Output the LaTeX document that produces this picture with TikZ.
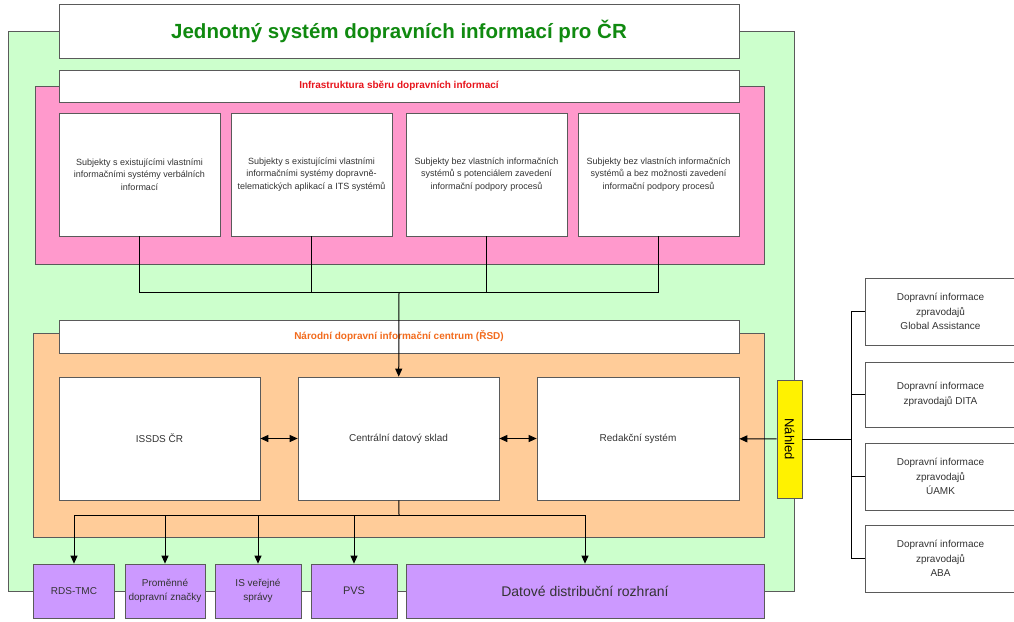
\documentclass[tikz,border=0pt]{standalone}
\usepackage{fontspec}
\setmainfont{Liberation Sans}
\usetikzlibrary{arrows.meta}

\definecolor{linegray}{HTML}{5A5A5A}
\definecolor{textgray}{HTML}{333333}
\definecolor{jsdigreen}{HTML}{CCFFCC}
\definecolor{infrapink}{HTML}{FF99CC}
\definecolor{ndicorange}{HTML}{FFCC99}
\definecolor{outviolet}{HTML}{CC99FF}
\definecolor{titlegreen}{HTML}{108A10}
\definecolor{labelred}{HTML}{E8141C}
\definecolor{labelorange}{HTML}{F26B1D}

\begin{document}
\begin{tikzpicture}[x=1pt, y=-1pt, >={Triangle[length=8pt,width=7pt]},
    every node/.style={align=center, draw=linegray, line width=0.7pt, inner sep=1pt},
    box/.style={fill=white, text=textgray, font=\fontsize{9}{12.3}\selectfont},
    bigbox/.style={fill=white, text=textgray, font=\fontsize{10}{13}\selectfont},
    srcbox/.style={fill=white, text=textgray, font=\fontsize{10}{14.5}\selectfont},
    outbox/.style={fill=outviolet, text=textgray, font=\fontsize{10}{14}\selectfont},
    link/.style={black, line width=1pt}]
      \useasboundingbox (0,0) rectangle (1014,621);

      % Background panels
      \node (jsdi) [fill=jsdigreen, minimum width=786pt, minimum height=560pt] at (401,311) {};
      \node (infra) [fill=infrapink, minimum width=729pt, minimum height=178pt] at (399.5,175) {};
      \node (ndic) [fill=ndicorange, minimum width=731pt, minimum height=204pt] at (398.5,435) {};

      % Title
      \node (title) [fill=white, minimum width=680pt, minimum height=54pt, text=titlegreen,
        font=\fontsize{20.5}{24}\selectfont\bfseries] at (399,31) {Jednotný systém dopravních informací pro ČR};

      % Infrastruktura - label and subjects
      \node (infralabel) [fill=white, minimum width=680pt, minimum height=32pt, text=labelred,
        font=\fontsize{10}{12}\selectfont\bfseries] at (399,86) {Infrastruktura sběru dopravních informací};
      \node (s1) [box, minimum width=161pt, minimum height=123pt] at (139.5,174.5)
        {Subjekty s existujícími vlastními\\informačními systémy verbálních\\informací};
      \node (s2) [box, minimum width=161pt, minimum height=123pt] at (311.5,174.5)
        {Subjekty s existujícími vlastními\\informačními systémy dopravně-\\telematických aplikací a ITS systémů};
      \node (s3) [box, minimum width=161pt, minimum height=123pt] at (486.5,174.5)
        {Subjekty bez vlastních informačních\\systémů s potenciálem zavedení\\informační podpory procesů};
      \node (s4) [box, minimum width=161pt, minimum height=123pt] at (658.5,174.5)
        {Subjekty bez vlastních informačních\\systémů a bez možnosti zavedení\\informační podpory procesů};

      % Narodni dopravni informacni centrum
      \node (ndiclabel) [fill=white, minimum width=680pt, minimum height=33pt, text=labelorange,
        font=\fontsize{10}{12}\selectfont\bfseries] at (399,336.5) {Národní dopravní informační centrum (ŘSD)};
      \node (issds) [bigbox, minimum width=201pt, minimum height=123pt] at (159.5,438.5) {ISSDS ČR};
      \node (central) [bigbox, minimum width=201pt, minimum height=123pt] at (398.5,438.5) {Centrální datový sklad};
      \node (red) [bigbox, minimum width=202pt, minimum height=123pt] at (638,438.5) {Redakční systém};

      % Nahled
      \node (nahled) [fill=yellow, rotate=-90, minimum width=118pt, minimum height=25pt,
        font=\fontsize{13}{15}\selectfont] at (789.5,439) {Náhled};

      % Sources on the right
      \node (r1) [srcbox, minimum width=151pt, minimum height=67pt] at (940.5,311.5)
        {Dopravní informace\\zpravodajů\\Global Assistance};
      \node (r2) [srcbox, minimum width=151pt, minimum height=65pt] at (940.5,394.5)
        {Dopravní informace\\zpravodajů DITA};
      \node (r3) [srcbox, minimum width=151pt, minimum height=67pt] at (940.5,476.5)
        {Dopravní informace\\zpravodajů\\ÚAMK};
      \node (r4) [srcbox, minimum width=151pt, minimum height=67pt] at (940.5,558.5)
        {Dopravní informace\\zpravodajů\\ABA};

      % Outputs
      \node (rds) [outbox, minimum width=81pt, minimum height=54pt] at (74,591) {RDS-TMC};
      \node (vms) [outbox, minimum width=80pt, minimum height=54pt] at (165,591)
        {Proměnné\\dopravní značky};
      \node (isvs) [outbox, minimum width=86pt, minimum height=54pt] at (258,591) {IS veřejné\\správy};
      \node (pvs) [outbox, minimum width=86pt, minimum height=54pt, font=\fontsize{11}{14}\selectfont] at (354,591) {PVS};
      \node (ddr) [outbox, minimum width=358pt, minimum height=54pt, font=\fontsize{14}{16}\selectfont] at (585,591)
        {Datové distribuční rozhraní};

      % Connectors
      \coordinate (join) at (399,292);
      \coordinate (split) at (399,515);
      \coordinate (trunk) at (851,439);
      \draw[link] (s1.south) |- (join);
      \draw[link] (s2.south) |- (join);
      \draw[link] (s3.south) |- (join);
      \draw[link] (s4.south) |- (join);
      \draw[link, ->] (join) -- (central);
      \draw[link, <->] (issds) -- (central);
      \draw[link, <->] (central) -- (red);
      \draw[link, ->] (nahled) -- (red);
      \draw[link] (nahled) -- (trunk);
      \draw[link] (trunk) |- (r1);
      \draw[link] (trunk) |- (r2);
      \draw[link] (trunk) |- (r3);
      \draw[link] (trunk) |- (r4);
      \draw[link] (central) -- (split);
      \draw[link, ->] (split) -| (rds);
      \draw[link, ->] (split) -| (vms);
      \draw[link, ->] (split) -| (isvs);
      \draw[link, ->] (split) -| (pvs);
      \draw[link, ->] (split) -| (ddr);
\end{tikzpicture}
\end{document}
